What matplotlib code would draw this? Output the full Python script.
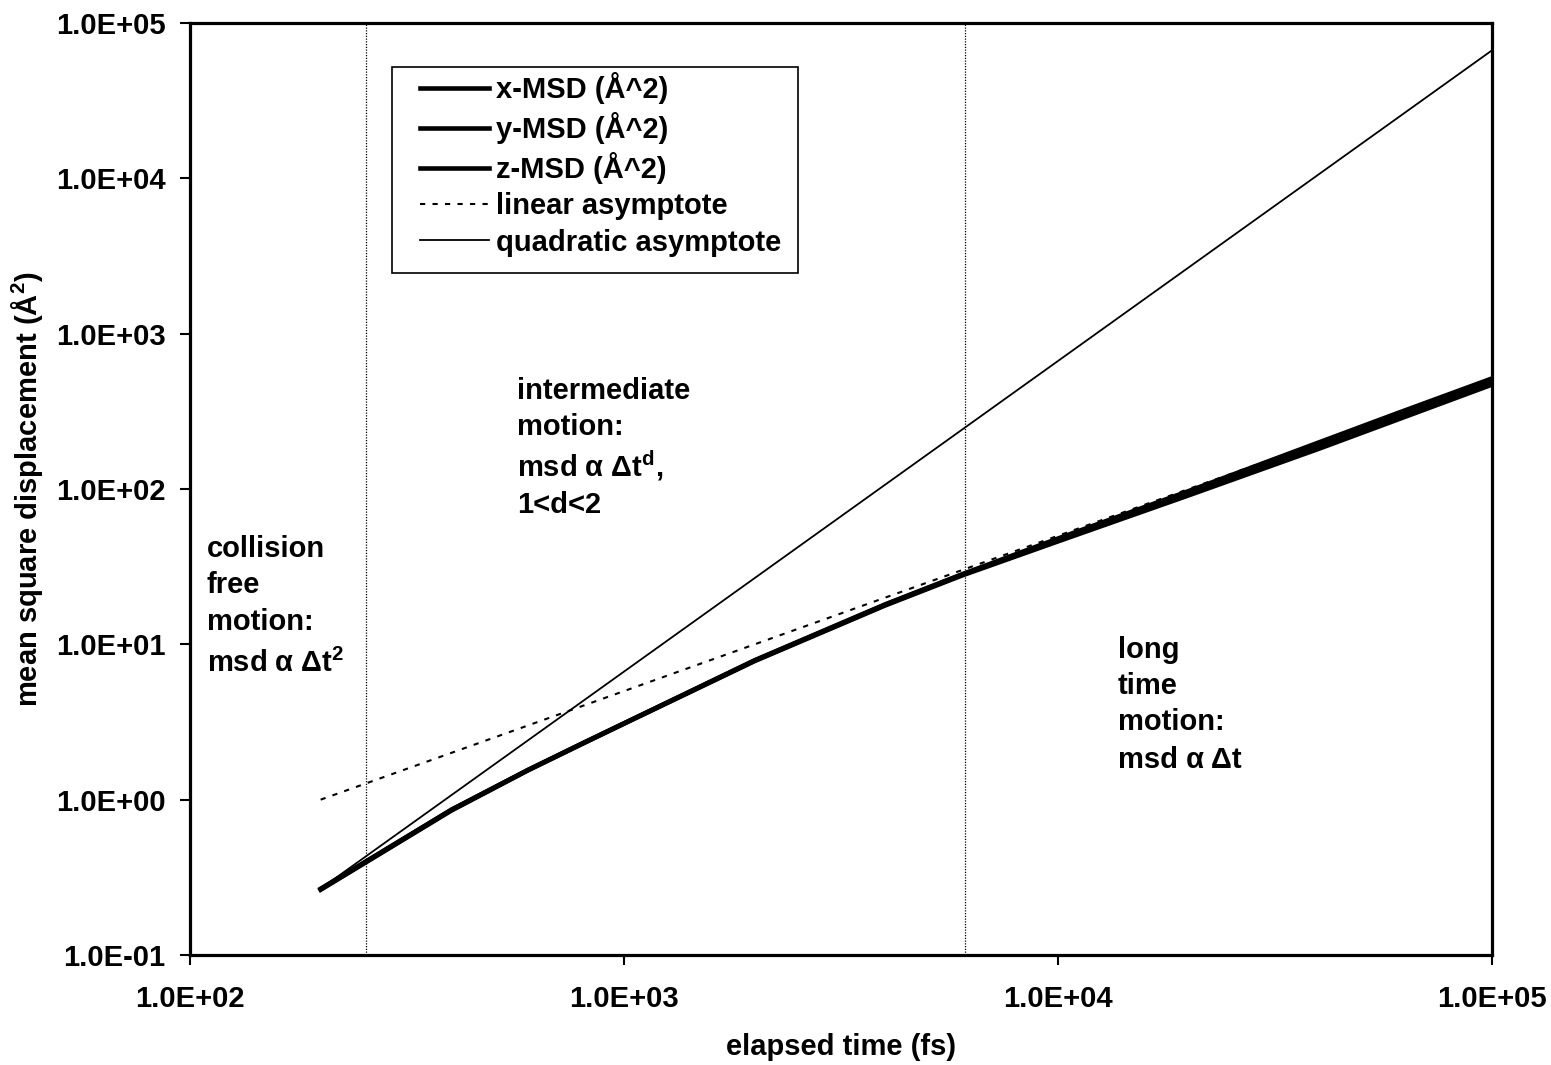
import matplotlib
matplotlib.use("Agg")
import matplotlib.pyplot as plt
from matplotlib.patches import Rectangle
from matplotlib.ticker import FixedLocator, FixedFormatter, NullLocator

plt.rcParams['font.family'] = ['Liberation Sans', 'DejaVu Sans']
plt.rcParams['font.weight'] = 'bold'
plt.rcParams['mathtext.fontset'] = 'custom'
plt.rcParams['mathtext.rm'] = 'Liberation Sans:bold'
plt.rcParams['mathtext.it'] = 'Liberation Sans:bold'
plt.rcParams['mathtext.bf'] = 'Liberation Sans:bold'
plt.rcParams['mathtext.default'] = 'rm'

# ---- data ----
time_fs = [200, 400, 600, 800, 1000, 2000, 4000, 6000, 10000, 20000, 40000, 60000, 100000]
x_msd = [0.267, 0.86, 1.55, 2.30, 3.10, 7.9, 18.1, 28.2, 48, 97, 200, 305, 515]
y_msd = [0.265, 0.86, 1.55, 2.29, 3.10, 7.85, 18.0, 28.0, 47, 94, 190, 290, 492]
z_msd = [0.263, 0.85, 1.54, 2.28, 3.08, 7.8, 17.8, 27.7, 46, 91, 182, 277, 470]

asym_t = [200, 100000]
linear_asym = [1.0, 500.0]
quadratic_asym = [0.267, 66750.0]

regime_bounds = [254, 6100]

x_ticks = [1e2, 1e3, 1e4, 1e5]
x_ticklabels = ["1.0E+02", "1.0E+03", "1.0E+04", "1.0E+05"]
y_ticks = [1e-1, 1e0, 1e1, 1e2, 1e3, 1e4, 1e5]
y_ticklabels = ["1.0E-01", "1.0E+00", "1.0E+01", "1.0E+02", "1.0E+03", "1.0E+04", "1.0E+05"]

series_labels = ["x-MSD (Å^2)", "y-MSD (Å^2)", "z-MSD (Å^2)", "linear asymptote", "quadratic asymptote"]

collision_lines = ["collision", "free", "motion:", "msd α Δt$^{2}$"]
intermediate_lines = ["intermediate", "motion:", "msd α Δt$^{d}$,", "1<d<2"]
long_lines = ["long", "time", "motion:", "msd α Δt"]

FS = 21

fig = plt.figure(figsize=(15.51, 10.65), dpi=100)
ax = fig.add_axes([0.1225, 0.1033, 0.8395, 0.8751])

ax.set_xscale('log')
ax.set_yscale('log')

for xb in regime_bounds:
    ax.axvline(xb, color='black', lw=0.9, linestyle=(0, (1, 1.2)), zorder=1)

l1, = ax.plot(time_fs, x_msd, color='black', lw=3.3, label=series_labels[0], zorder=3)
l2, = ax.plot(time_fs, y_msd, color='black', lw=3.3, label=series_labels[1], zorder=3)
l3, = ax.plot(time_fs, z_msd, color='black', lw=3.3, label=series_labels[2], zorder=3)
l4, = ax.plot(asym_t, linear_asym, color='black', lw=1.5, linestyle=(0, (2.5, 3.5)), label=series_labels[3], zorder=2)
l5, = ax.plot(asym_t, quadratic_asym, color='black', lw=1.3, label=series_labels[4], zorder=2)

ax.set_xlim(1e2, 1e5)
ax.set_ylim(1e-1, 1e5)

ax.xaxis.set_major_locator(FixedLocator(x_ticks))
ax.xaxis.set_major_formatter(FixedFormatter(x_ticklabels))
ax.xaxis.set_minor_locator(NullLocator())
ax.yaxis.set_major_locator(FixedLocator(y_ticks))
ax.yaxis.set_major_formatter(FixedFormatter(y_ticklabels))
ax.yaxis.set_minor_locator(NullLocator())

ax.tick_params(axis='both', which='major', direction='out', length=7.5, width=1.5,
               labelsize=FS, colors='black')
ax.tick_params(axis='x', pad=14)
ax.tick_params(axis='y', pad=10)
for lab in ax.get_xticklabels() + ax.get_yticklabels():
    lab.set_fontweight('bold')

for sp in ax.spines.values():
    sp.set_linewidth(2.3)
    sp.set_color('black')

ax.set_xlabel("elapsed time (fs)", fontsize=FS, fontweight='bold')
ax.xaxis.set_label_coords(0.5, -0.084)
ax.set_ylabel("mean square displacement (Å$^{2}$)", fontsize=FS, fontweight='bold')
ax.yaxis.set_label_coords(-0.111, 0.5)

# legend
leg = ax.legend(handles=[l1, l2, l3, l4, l5], loc='upper left',
                bbox_to_anchor=(0.1767, 0.9475), frameon=False,
                fontsize=FS, handlelength=2.35, handletextpad=0.25,
                labelspacing=0.28, borderpad=0, borderaxespad=0)
for t in leg.get_texts():
    t.set_fontweight('bold')
ax.add_patch(Rectangle((0.155, 0.7318), 0.3118, 0.221, transform=ax.transAxes,
                       fill=False, edgecolor='black', lw=1.2, zorder=5))

# annotations (one text per line, baselines in axes fraction)
ann_kw = dict(transform=ax.transAxes, fontsize=FS, fontweight='bold',
              ha='left', va='baseline')
blocks = [
    (0.013, [0.4270, 0.3879, 0.3487, 0.3036], collision_lines),
    (0.251, [0.5966, 0.5579, 0.5129, 0.4742], intermediate_lines),
    (0.7128, [0.3187, 0.2800, 0.2414, 0.2006], long_lines),
]
for xpos, ys, lines in blocks:
    for yy, txt in zip(ys, lines):
        ax.text(xpos, yy, txt, **ann_kw)

fig.savefig("out.png", dpi=100)
